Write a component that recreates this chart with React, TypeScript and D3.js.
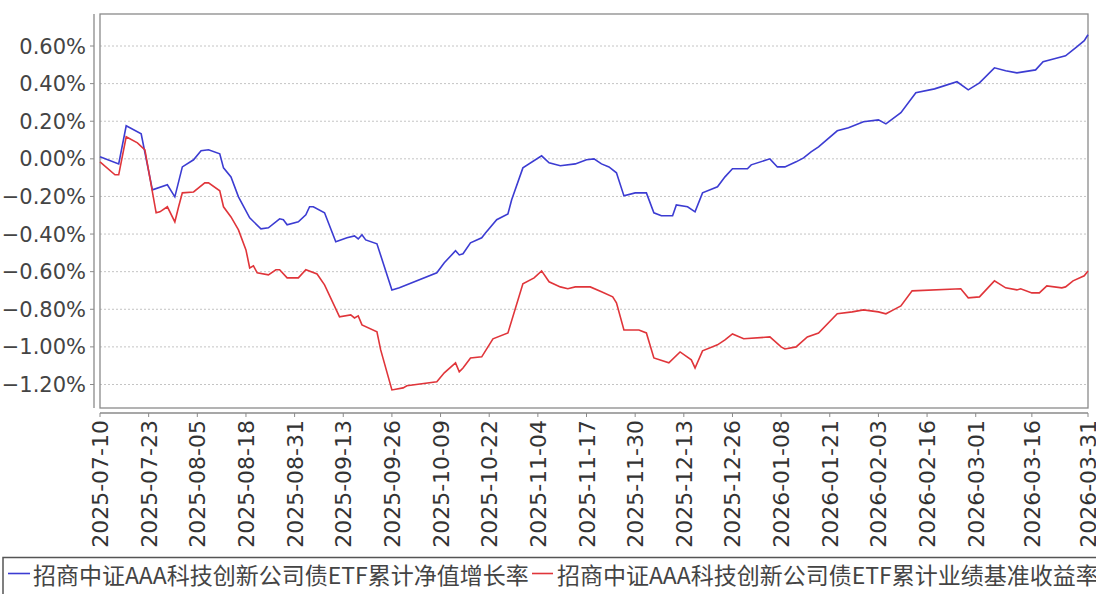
import React from "react";
import * as d3 from "d3";

const navDates = ["2025-07-10","2025-07-15","2025-07-17","2025-07-21","2025-07-24","2025-07-28","2025-07-30","2025-08-01","2025-08-04","2025-08-06","2025-08-08","2025-08-11","2025-08-12","2025-08-14","2025-08-16","2025-08-19","2025-08-22","2025-08-24","2025-08-27","2025-08-28","2025-08-29","2025-09-01","2025-09-03","2025-09-04","2025-09-05","2025-09-08","2025-09-11","2025-09-14","2025-09-16","2025-09-17","2025-09-18","2025-09-19","2025-09-22","2025-09-26","2025-09-28","2025-10-08","2025-10-10","2025-10-13","2025-10-14","2025-10-15","2025-10-17","2025-10-20","2025-10-21","2025-10-24","2025-10-27","2025-10-28","2025-10-31","2025-11-05","2025-11-07","2025-11-10","2025-11-14","2025-11-17","2025-11-19","2025-11-21","2025-11-23","2025-11-25","2025-11-27","2025-11-30","2025-12-03","2025-12-05","2025-12-07","2025-12-10","2025-12-11","2025-12-14","2025-12-16","2025-12-18","2025-12-22","2025-12-24","2025-12-26","2025-12-30","2025-12-31","2026-01-05","2026-01-07","2026-01-09","2026-01-12","2026-01-14","2026-01-16","2026-01-18","2026-01-23","2026-01-26","2026-01-30","2026-02-03","2026-02-05","2026-02-09","2026-02-13","2026-02-18","2026-02-24","2026-02-27","2026-03-02","2026-03-06","2026-03-09","2026-03-12","2026-03-17","2026-03-19","2026-03-22","2026-03-25","2026-03-28","2026-03-30","2026-03-31"];
const navValues = [0.011,-0.027,0.176,0.133,-0.165,-0.138,-0.202,-0.043,-0.005,0.043,0.048,0.027,-0.048,-0.096,-0.202,-0.314,-0.372,-0.367,-0.319,-0.324,-0.351,-0.335,-0.298,-0.255,-0.255,-0.287,-0.441,-0.420,-0.410,-0.426,-0.404,-0.431,-0.452,-0.697,-0.686,-0.606,-0.553,-0.489,-0.511,-0.505,-0.447,-0.420,-0.394,-0.324,-0.293,-0.218,-0.048,0.016,-0.021,-0.037,-0.027,-0.005,0.0,-0.027,-0.043,-0.074,-0.197,-0.181,-0.181,-0.287,-0.303,-0.303,-0.245,-0.255,-0.282,-0.181,-0.149,-0.096,-0.053,-0.053,-0.032,0.0,-0.043,-0.043,-0.016,0.005,0.037,0.064,0.149,0.165,0.197,0.207,0.186,0.245,0.351,0.372,0.410,0.367,0.404,0.484,0.468,0.457,0.473,0.516,0.532,0.548,0.596,0.628,0.660];

const benchDates = ["2025-07-10","2025-07-14","2025-07-15","2025-07-17","2025-07-20","2025-07-22","2025-07-25","2025-07-26","2025-07-28","2025-07-30","2025-07-31","2025-08-01","2025-08-04","2025-08-07","2025-08-08","2025-08-11","2025-08-12","2025-08-14","2025-08-16","2025-08-18","2025-08-19","2025-08-20","2025-08-21","2025-08-24","2025-08-26","2025-08-27","2025-08-29","2025-09-01","2025-09-03","2025-09-06","2025-09-08","2025-09-12","2025-09-15","2025-09-16","2025-09-17","2025-09-18","2025-09-22","2025-09-23","2025-09-26","2025-09-29","2025-09-30","2025-10-08","2025-10-10","2025-10-13","2025-10-14","2025-10-15","2025-10-17","2025-10-20","2025-10-23","2025-10-27","2025-10-31","2025-11-03","2025-11-05","2025-11-07","2025-11-10","2025-11-12","2025-11-14","2025-11-18","2025-11-21","2025-11-24","2025-11-25","2025-11-27","2025-12-01","2025-12-03","2025-12-05","2025-12-09","2025-12-12","2025-12-15","2025-12-16","2025-12-18","2025-12-22","2025-12-24","2025-12-26","2025-12-29","2026-01-05","2026-01-08","2026-01-09","2026-01-12","2026-01-15","2026-01-18","2026-01-23","2026-01-27","2026-01-30","2026-02-03","2026-02-05","2026-02-07","2026-02-09","2026-02-12","2026-02-25","2026-02-27","2026-03-02","2026-03-06","2026-03-09","2026-03-12","2026-03-13","2026-03-16","2026-03-18","2026-03-20","2026-03-24","2026-03-25","2026-03-27","2026-03-30","2026-03-31"];
const benchValues = [-0.016,-0.085,-0.085,0.117,0.085,0.048,-0.287,-0.282,-0.255,-0.335,-0.255,-0.181,-0.176,-0.128,-0.128,-0.170,-0.255,-0.309,-0.378,-0.484,-0.580,-0.569,-0.606,-0.617,-0.590,-0.590,-0.633,-0.633,-0.590,-0.612,-0.670,-0.840,-0.830,-0.846,-0.835,-0.883,-0.920,-1.016,-1.229,-1.218,-1.207,-1.186,-1.138,-1.085,-1.133,-1.112,-1.059,-1.053,-0.957,-0.926,-0.665,-0.633,-0.596,-0.654,-0.681,-0.691,-0.681,-0.681,-0.707,-0.734,-0.766,-0.910,-0.910,-0.926,-1.059,-1.085,-1.027,-1.069,-1.112,-1.021,-0.989,-0.963,-0.931,-0.957,-0.947,-1.000,-1.011,-1.000,-0.947,-0.926,-0.824,-0.814,-0.803,-0.814,-0.824,-0.803,-0.782,-0.702,-0.691,-0.739,-0.734,-0.649,-0.686,-0.697,-0.691,-0.713,-0.713,-0.676,-0.686,-0.681,-0.649,-0.622,-0.596];

const xTickLabels = ["2025-07-10","2025-07-23","2025-08-05","2025-08-18","2025-08-31","2025-09-13","2025-09-26","2025-10-09","2025-10-22","2025-11-04","2025-11-17","2025-11-30","2025-12-13","2025-12-26","2026-01-08","2026-01-21","2026-02-03","2026-02-16","2026-03-01","2026-03-16","2026-03-31"];
const yTicks = [0.6, 0.4, 0.2, 0.0, -0.2, -0.4, -0.6, -0.8, -1.0, -1.2];

const seriesNames = ["招商中证AAA科技创新公司债ETF累计净值增长率", "招商中证AAA科技创新公司债ETF累计业绩基准收益率"];
const seriesColors = ["#3c3cd2", "#e0353a"];

const parse = d3.timeParse("%Y-%m-%d");

export default function App() {
  const W = 1096, H = 594;
  const left = 100, right = 1088, top = 14, bottom = 408;
  const x = d3.scaleTime()
    .domain([parse("2025-07-10")!, parse("2026-03-31")!])
    .range([left, right]);
  const y = d3.scaleLinear().domain([-1.2, 0.6]).range([384.5, 46]);

  const nav = navDates.map((d, i) => ({ d: parse(d)!, v: navValues[i] })).filter(p => p.v !== undefined);
  const bench = benchDates.map((d, i) => ({ d: parse(d)!, v: benchValues[i] })).filter(p => p.v !== undefined);
  const line = d3.line<{ d: Date; v: number }>().x(p => x(p.d)).y(p => y(p.v));

  const axisColor = "#8a8a8a";
  const labelFont = "'DejaVu Sans', 'Liberation Sans', sans-serif";
  const cjkFont = "'Noto Sans CJK SC', 'Noto Sans', sans-serif";

  return (
    <svg width={W} height={H} style={{ position: "absolute", left: 0, top: 0, background: "#fff" }}>
      <rect x={0} y={0} width={W} height={H} fill="#fff" />
      {/* grid */}
      {yTicks.map(t => (
        <line key={"g" + t} x1={left} x2={right} y1={y(t)} y2={y(t)} stroke="#c4c4c4" strokeWidth={1} strokeDasharray="2,2" />
      ))}
      {/* plot border */}
      <rect x={left} y={top} width={right - left} height={bottom - top} fill="none" stroke={axisColor} strokeWidth={1.3} />
      {/* y axis */}
      <line x1={94} x2={94} y1={top} y2={bottom} stroke={axisColor} strokeWidth={1.3} />
      {yTicks.map(t => (
        <g key={"y" + t}>
          <line x1={90} x2={94} y1={y(t)} y2={y(t)} stroke={axisColor} strokeWidth={1} />
          <text x={86} y={y(t)} dy="0.36em" textAnchor="end" fontFamily={labelFont} fontSize={21} fill="#444">
            {d3.format(".2f")(t) + "%"}
          </text>
        </g>
      ))}
      {/* x axis */}
      <line x1={left} x2={right} y1={413} y2={413} stroke={axisColor} strokeWidth={1.3} />
      {xTickLabels.map(s => {
        const xx = x(parse(s)!);
        return (
          <g key={"x" + s}>
            <line x1={xx} x2={xx} y1={413} y2={417} stroke={axisColor} strokeWidth={1} />
            <text transform={`translate(${xx + 8},420) rotate(-90)`} textAnchor="end" fontFamily={labelFont} fontSize={22} fill="#333">
              {s}
            </text>
          </g>
        );
      })}
      {/* series */}
      <path d={line(nav) || ""} fill="none" stroke={seriesColors[0]} strokeWidth={1.6} />
      <path d={line(bench) || ""} fill="none" stroke={seriesColors[1]} strokeWidth={1.6} />
      {/* legend */}
      <rect x={3} y={557.5} width={1100} height={50} fill="#fff" stroke="#555" strokeWidth={1.5} />
      <line x1={8} x2={30} y1={573.5} y2={573.5} stroke={seriesColors[0]} strokeWidth={1.6} />
      <text x={33} y={584} fontFamily={cjkFont} fontSize={23} fill="#444">{seriesNames[0]}</text>
      <line x1={532} x2={553} y1={573.5} y2={573.5} stroke={seriesColors[1]} strokeWidth={1.6} />
      <text x={557} y={584} fontFamily={cjkFont} fontSize={23} fill="#444">{seriesNames[1]}</text>
    </svg>
  );
}
